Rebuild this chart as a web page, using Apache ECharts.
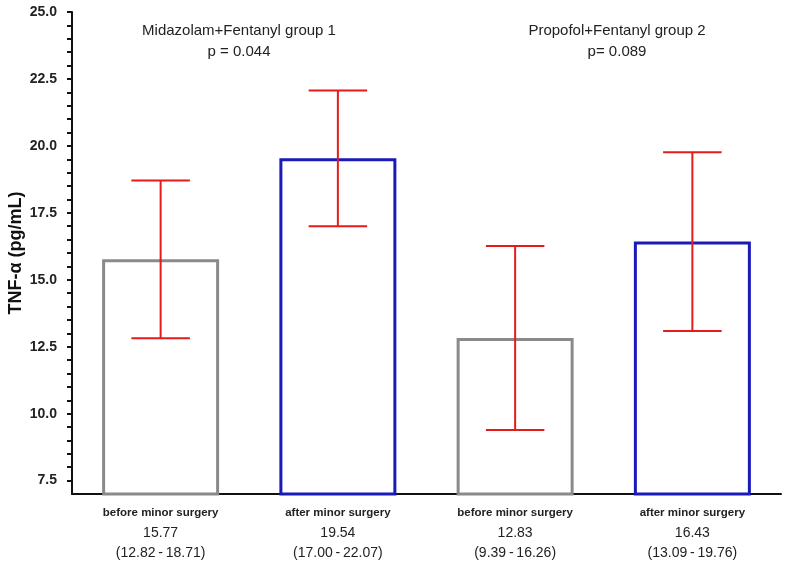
<!DOCTYPE html>
<html><head><meta charset="utf-8">
<script src="https://cdn.jsdelivr.net/npm/echarts@6/dist/echarts.min.js"></script>
<style>html,body{margin:0;padding:0;background:#fff}#c{width:787px;height:566px}</style>
</head><body><div id="c"></div>
<script>
var categories = ['before minor surgery', 'after minor surgery', 'before minor surgery', 'after minor surgery'];
var medians = [15.77, 19.54, 12.83, 16.43];
var lower = [12.82, 17.00, 9.39, 13.09];
var upper = [18.71, 22.07, 16.26, 19.76];
var barColors = ['#8a8a8a', '#1a1ab8', '#8a8a8a', '#1a1ab8'];
var yLabels = [7.5, 10, 12.5, 15, 17.5, 20, 22.5, 25];
var yMinorTicks = [];
for (var v = 7.5; v <= 25.001; v += 0.5) yMinorTicks.push(Math.round(v * 10) / 10);
var groupTitles = ['Midazolam+Fentanyl group 1', 'Propofol+Fentanyl group 2'];
var pValues = ['p = 0.044', 'p= 0.089'];

var chart = echarts.init(document.getElementById('c'));
var F = 'Liberation Sans, Arial, sans-serif';
chart.setOption({
  animation: false,
  grid: {left: 72, right: 6, top: 12, bottom: 72, containLabel: false, outerBoundsMode: 'none'},
  xAxis: {
    type: 'category', data: categories,
    axisLine: {lineStyle: {color: '#111', width: 2}},
    axisTick: {show: true, alignWithLabel: true, length: -6, lineStyle: {color: '#111', width: 2}},
    axisLabel: {
      margin: 9, interval: 0,
      formatter: function (val, i) {
        return '{a|' + val + '}\n{b|' + medians[i].toFixed(2) + '}\n{b|(' + lower[i].toFixed(2) + '\u2009-\u2009' + upper[i].toFixed(2) + ')}';
      },
      rich: {
        a: {fontFamily: F, fontSize: 11.5, fontWeight: 'bold', color: '#222', lineHeight: 20},
        b: {fontFamily: F, fontSize: 14, color: '#222', lineHeight: 20}
      }
    }
  },
  yAxis: {
    type: 'value', min: 7, max: 25,
    name: 'TNF-α (pg/mL)', nameLocation: 'middle', nameGap: 47, nameRotate: 90, nameMoveOverlap: false,
    nameTextStyle: {fontFamily: F, fontSize: 18, fontWeight: 'bold', color: '#111'},
    axisLine: {show: true, lineStyle: {color: '#111', width: 2}},
    axisTick: {show: true, length: 5, customValues: yMinorTicks, lineStyle: {color: '#111', width: 2}},
    axisLabel: {customValues: yLabels, fontFamily: F, fontSize: 14, fontWeight: 'bold', color: '#222', margin: 15,
      formatter: function (v) { return v.toFixed(1); }},
    splitLine: {show: false}
  },
  series: [{
    type: 'bar', barWidth: '66%',
    data: medians.map(function (m, i) {
      return {value: m, itemStyle: {color: '#fff', borderColor: barColors[i], borderWidth: 3}};
    }),
    z: 1
  }, {
    type: 'custom', z: 5,
    data: medians.map(function (m, i) { return [i, lower[i], upper[i]]; }),
    renderItem: function (params, api) {
      var lo = api.coord([api.value(0), api.value(1)]);
      var hi = api.coord([api.value(0), api.value(2)]);
      var w = api.size([1, 0])[0] * 0.33;
      var st = {stroke: '#e41b1b', lineWidth: 2};
      return {type: 'group', children: [
        {type: 'line', shape: {x1: lo[0], y1: lo[1], x2: hi[0], y2: hi[1]}, style: st},
        {type: 'line', shape: {x1: lo[0] - w / 2, y1: lo[1], x2: lo[0] + w / 2, y2: lo[1]}, style: st},
        {type: 'line', shape: {x1: hi[0] - w / 2, y1: hi[1], x2: hi[0] + w / 2, y2: hi[1]}, style: st}
      ]};
    }
  }],
  graphic: [
    {type: 'text', x: 239, y: 23, style: {text: groupTitles[0], fontFamily: F, fontSize: 15, fill: '#222', align: 'center'}},
    {type: 'text', x: 239, y: 44, style: {text: pValues[0], fontFamily: F, fontSize: 15, fill: '#222', align: 'center'}},
    {type: 'text', x: 617, y: 23, style: {text: groupTitles[1], fontFamily: F, fontSize: 15, fill: '#222', align: 'center'}},
    {type: 'text', x: 617, y: 44, style: {text: pValues[1], fontFamily: F, fontSize: 15, fill: '#222', align: 'center'}}
  ]
});
</script></body></html>
